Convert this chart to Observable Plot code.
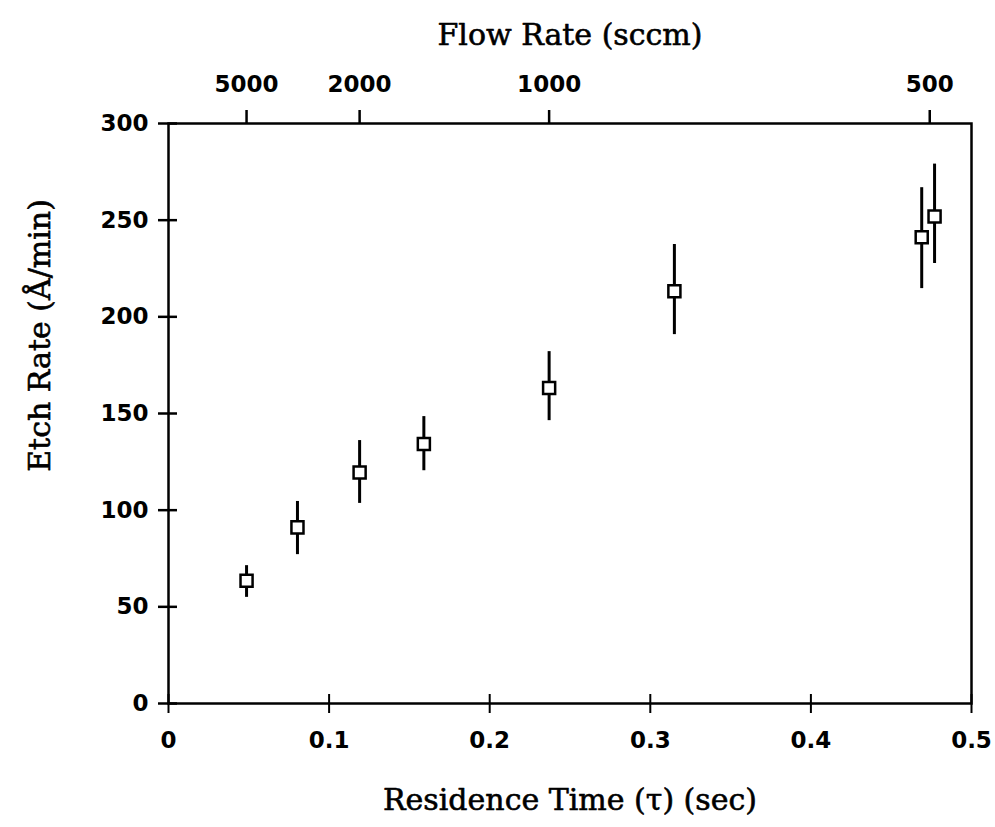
<!DOCTYPE html>
<html>
<head>
<meta charset="utf-8">
<script src="https://cdn.jsdelivr.net/npm/d3@7"></script>
<script src="https://cdn.jsdelivr.net/npm/@observablehq/plot@0.6"></script>
<style>
  html, body { margin: 0; padding: 0; background: #fff; }
  #chart { width: 995px; height: 827px; }
</style>
</head>
<body>
<div id="chart"></div>
<script>
// Data
const residenceTime = [0.0486, 0.0803, 0.119, 0.159, 0.237, 0.315, 0.469, 0.477];
const etchRate      = [63.5, 91.1, 119.5, 134.2, 163.2, 213.2, 241.2, 251.9];
const errLow        = [54.9, 77.0, 103.5, 120.4, 146.3, 190.8, 214.6, 227.6];
const errHigh       = [71.3, 104.5, 136.0, 148.4, 182.0, 237.4, 266.8, 279.0];

const xTicks = [0, 0.1, 0.2, 0.3, 0.4, 0.5];
const yTicks = [0, 50, 100, 150, 200, 250, 300];
const flowRates = [5000, 2000, 1000, 500];
const flowTau   = [0.0486, 0.119, 0.237, 0.474];

const xTitle = "Residence Time (τ) (sec)";
const yTitle = "Etch Rate (Å/min)";
const topTitle = "Flow Rate (sccm)";

const data = residenceTime.map((t, i) => ({tau: t, rate: etchRate[i], lo: errLow[i], hi: errHigh[i]}));

const W = 995, H = 827, ML = 168, MR = 24, MT = 123, MB = 124;

const numFont = {fontFamily: "DejaVu Sans", fontWeight: "bold", fontSize: 23};
const titleFont = {fontFamily: "DejaVu Serif", fontSize: 30, fill: "#000", stroke: "#000", strokeWidth: 0.6};

const chart = Plot.plot({
  width: W,
  height: H,
  marginLeft: ML,
  marginRight: MR,
  marginTop: MT,
  marginBottom: MB,
  style: {background: "#fff", color: "#000", overflow: "visible"},
  x: {domain: [0, 0.5]},
  y: {domain: [0, 300]},
  marks: [
    Plot.frame({strokeWidth: 2.5}),
    // left axis ticks crossing the frame
    Plot.axisY(yTicks, {anchor: "left", tickSize: 19, dx: 9, fill: "none", strokeWidth: 2.5, label: null}),
    Plot.axisY(yTicks, {anchor: "left", tickSize: 0, tickPadding: 20, stroke: "none", label: null, ...numFont}),
    // bottom axis ticks crossing the frame
    Plot.axisX(xTicks, {anchor: "bottom", tickSize: 19, dy: -9, fill: "none", strokeWidth: 2, label: null}),
    Plot.axisX(xTicks, {anchor: "bottom", tickSize: 0, tickPadding: 28, stroke: "none", label: null,
      tickFormat: d => d === 0 ? "0" : String(d), ...numFont}),
    // top axis: flow rate
    Plot.axisX(flowTau, {anchor: "top", tickSize: 14, tickPadding: 18, strokeWidth: 2.5, label: null,
      tickFormat: d => String(flowRates[flowTau.indexOf(d)]), ...numFont}),
    // titles
    Plot.text([topTitle], {frameAnchor: "top", text: d => d, dy: -100, ...titleFont}),
    Plot.text([xTitle], {frameAnchor: "bottom", text: d => d, dy: 106, ...titleFont}),
    Plot.text([yTitle], {frameAnchor: "left", textAnchor: "middle", text: d => d, rotate: -90, dx: -128, dy: -78, ...titleFont}),
    // error bars and markers
    Plot.ruleX(data, {x: "tau", y1: "lo", y2: "hi", strokeWidth: 3, stroke: "#000"}),
    Plot.dot(data, {x: "tau", y: "rate", symbol: "square", r: 6.8, fill: "#fff", stroke: "#000", strokeWidth: 2.5})
  ]
});
document.getElementById("chart").appendChild(chart);
</script>
</body>
</html>
